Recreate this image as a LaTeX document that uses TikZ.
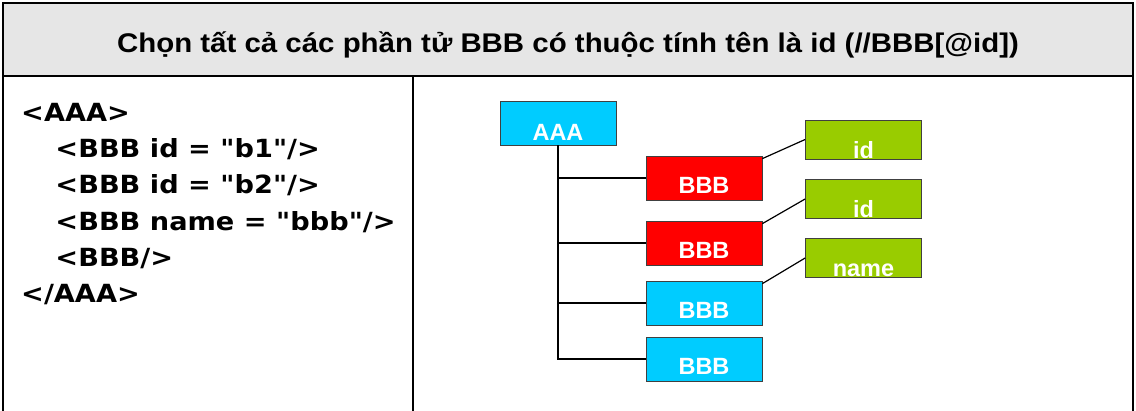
\documentclass[tikz,border=0pt]{standalone}
\usepackage{fontspec}
\setmainfont{Liberation Sans}
\newfontfamily\codefont{DejaVu Sans}
\definecolor{cyanC}{RGB}{0,204,255}
\definecolor{redC}{RGB}{255,0,0}
\definecolor{greenC}{RGB}{153,204,0}
\definecolor{titlegray}{RGB}{230,230,230}
\tikzset{
  frame/.style={line width=2pt, black},
  elbox/.style={draw=black!75, line width=0.8pt, minimum width=116pt, minimum height=44pt, inner sep=0pt},
  atbox/.style={draw=black!75, line width=0.8pt, minimum width=116pt, minimum height=39pt, inner sep=0pt, fill=greenC},
  btext/.style={text=white, font=\fontsize{23.5}{26}\selectfont\bfseries, inner sep=0pt, anchor=base},
  conn/.style={line width=1.2pt, black},
}
\begin{document}
\begin{tikzpicture}[x=1pt,y=-1pt]
\useasboundingbox (0,0) rectangle (1136,410);
\fill[titlegray] (3,3) rectangle (1133,76);
\draw[frame] (3,412) -- (3,3) -- (1133,3) -- (1133,412);
\draw[frame] (3,76) -- (1133,76);
\draw[frame] (413,76) -- (413,412);

\node[anchor=base, xscale=1.09, inner sep=0pt, font=\fontsize{27}{30}\selectfont\bfseries] (title) at (568,52) {Chọn tất cả các phần tử BBB có thuộc tính tên là id (//BBB[@id])};

\node[anchor=north west, align=left, inner sep=0pt, xscale=1.088, font=\codefont\fontsize{25}{36.2}\selectfont\bfseries] (code) at (21,103)
{<AAA>\\
\hspace*{31.5pt}<BBB id = "b1"/>\\
\hspace*{31.5pt}<BBB id = "b2"/>\\
\hspace*{31.5pt}<BBB name = "bbb"/>\\
\hspace*{31.5pt}<BBB/>\\
</AAA>};

% tree
\node[elbox, fill=cyanC] (aaa) at (558,123) {};
\node[elbox, fill=redC] (b1) at (704,178) {};
\node[elbox, fill=redC] (b2) at (704,243) {};
\node[elbox, fill=cyanC] (b3) at (704,303) {};
\node[elbox, fill=cyanC] (b4) at (704,359) {};
\node[atbox] (id1) at (863.5,139.5) {};
\node[atbox] (id2) at (863.5,199) {};
\node[atbox] (nm) at (863.5,258) {};

\node[btext] (taaa) at ([yshift=5pt]aaa.south) {AAA};
\node[btext] (tb1) at ([yshift=7pt]b1.south) {BBB};
\node[btext] (tb2) at ([yshift=7pt]b2.south) {BBB};
\node[btext] (tb3) at ([yshift=7pt]b3.south) {BBB};
\node[btext] (tb4) at ([yshift=7pt]b4.south) {BBB};
\node[btext] (tid1) at ([yshift=1pt]id1.south) {id};
\node[btext] (tid2) at ([yshift=1pt]id2.south) {id};
\node[btext] (tnm) at ([yshift=1pt]nm.south) {name};

\draw[conn] (aaa.south) -- (aaa.south |- b4.west) -- (b4.west);
\draw[conn] (aaa.south |- b1.west) -- (b1.west);
\draw[conn] (aaa.south |- b2.west) -- (b2.west);
\draw[conn] (aaa.south |- b3.west) -- (b3.west);
\draw[conn] ([yshift=-3pt]b1.north east) -- (id1.west);
\draw[conn] ([yshift=-3pt]b2.north east) -- (id2.west);
\draw[conn] ([yshift=-3pt]b3.north east) -- (nm.west);
\end{tikzpicture}
\end{document}
